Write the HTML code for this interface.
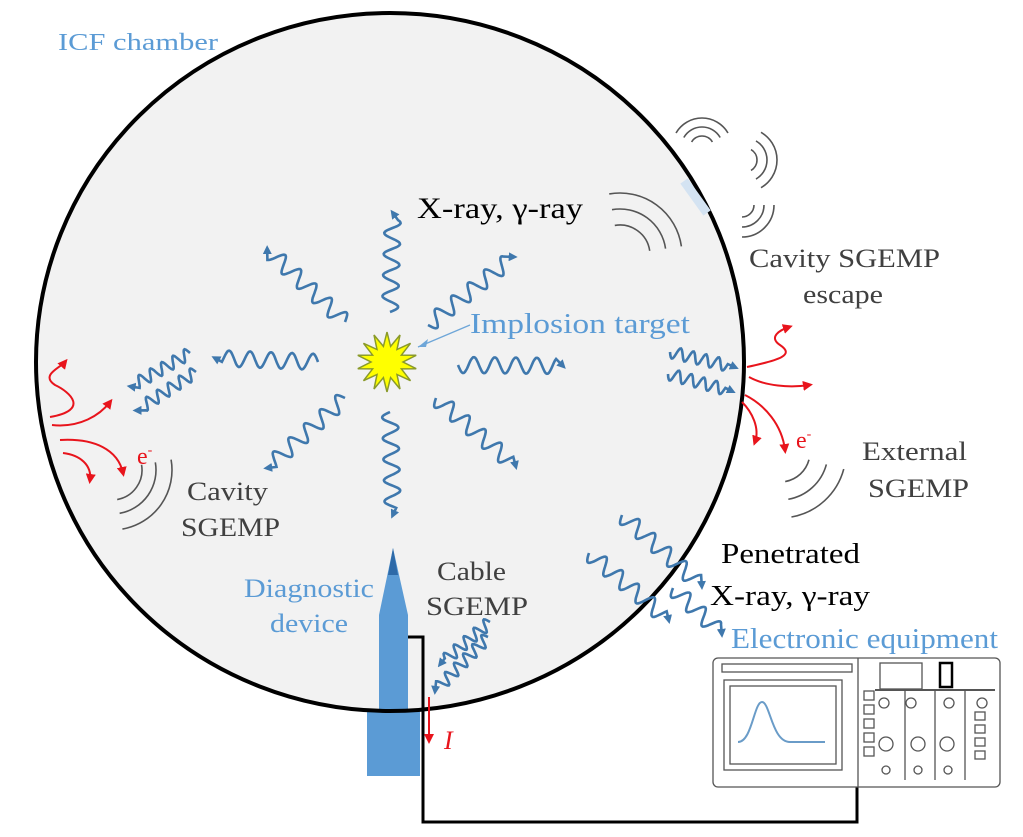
<!DOCTYPE html>
<html><head><meta charset="utf-8"><style>
html,body{margin:0;padding:0;background:#fff;}
svg{display:block;}
</style></head><body>
<svg id="s" width="1023" height="837" viewBox="0 0 1023 837" xmlns="http://www.w3.org/2000/svg" font-family="'Liberation Serif', 'Times New Roman', serif">
<defs>
<marker id="bh" markerWidth="9" markerHeight="9" refX="5" refY="4.5" orient="auto" markerUnits="userSpaceOnUse"><path d="M0,0 L9,4.5 L0,9 z" fill="#3f78ad"/></marker>
<marker id="rh" markerWidth="10" markerHeight="10" refX="6" refY="5" orient="auto" markerUnits="userSpaceOnUse"><path d="M0,0 L10,5 L0,10 z" fill="#e8141c"/></marker>
</defs>
<ellipse cx="390" cy="362" rx="354" ry="349" fill="#f2f2f2"/>
<path d="M393,548 L408,615 L408,710 L420,710 L420,776 L367,776 L367,710 L379,710 L379,615 Z" fill="#5b9bd5"/>
<path d="M393,548 L398,575 L388,575 Z" fill="#2e6aa8"/>
<ellipse cx="390" cy="362" rx="354" ry="349" fill="none" stroke="#000" stroke-width="4"/>
<line x1="684" y1="181" x2="707" y2="213" stroke="#d4e3f2" stroke-width="9"/>
<polyline points="408,637 423,637 423,822 857,822 857,787" fill="none" stroke="#000" stroke-width="3"/>
<line x1="429" y1="697" x2="429" y2="740" stroke="#e8141c" stroke-width="2" marker-end="url(#rh)"/>
<text x="444" y="749" font-size="26" font-style="italic" fill="#e8141c" font-family="Liberation Serif, serif">I</text>
<polygon id="star" fill="#ffff00" stroke="#8a9a2a" stroke-width="1.5"/>
<g id="waves" fill="none" stroke="#3f78ad" stroke-width="2.6"></g>
<g fill="none" stroke="#e8141c" stroke-width="2">
<path d="M50,417 C90,410 70,392 55,385 C40,375 60,368 65,362" marker-end="url(#rh)"/>
<path d="M52,425 C80,428 100,415 110,402" marker-end="url(#rh)"/>
<path d="M60,440 C95,438 118,450 123,473" marker-end="url(#rh)"/>
<path d="M63,453 C80,455 92,465 90,480" marker-end="url(#rh)"/>
<path d="M747,367 C780,360 795,355 780,345 C768,337 780,330 789,327" marker-end="url(#rh)"/>
<path d="M749,377 C765,386 790,388 809,385" marker-end="url(#rh)"/>
<path d="M745,395 C765,405 782,425 785,450" marker-end="url(#rh)"/>
<path d="M742,402 C752,412 760,428 755,442" marker-end="url(#rh)"/>
</g>
<g fill="none" stroke="#555" stroke-width="1.6" id="arcs"></g>
<g stroke="#555" fill="none" stroke-width="1.3">
<rect x="713" y="658" width="287" height="129" rx="5" fill="#fff"/>
<line x1="858" y1="658" x2="858" y2="787"/>
<rect x="724" y="680" width="118" height="90" fill="#fff"/>
<rect x="730" y="686" width="106" height="78"/>
<rect x="722" y="664" width="130" height="8"/>
<path d="M738,742 C752,742 754,702 762,702 C770,702 772,742 790,742 L825,742" stroke="#6a9cc8" stroke-width="2"/>
<rect x="864" y="691" width="10" height="9"/><rect x="864" y="705" width="10" height="9"/><rect x="864" y="719" width="10" height="9"/><rect x="864" y="733" width="10" height="9"/><rect x="864" y="747" width="10" height="9"/>
<rect x="880" y="663" width="42" height="26"/><rect x="940" y="663" width="12" height="24" stroke="#000" stroke-width="2.5"/>
<line x1="875" y1="690" x2="995" y2="690" stroke-width="2"/>
<circle cx="884" cy="703" r="5"/><circle cx="911" cy="703" r="5"/><circle cx="949" cy="703" r="5"/><circle cx="982" cy="703" r="5"/>
<circle cx="886" cy="744" r="7"/><circle cx="918" cy="744" r="7"/><circle cx="947" cy="744" r="7"/>
<circle cx="886" cy="770" r="4"/><circle cx="918" cy="770" r="4"/><circle cx="948" cy="770" r="4"/>
<line x1="905" y1="690" x2="905" y2="780"/><line x1="935" y1="690" x2="935" y2="780"/><line x1="965" y1="690" x2="965" y2="780"/>
<rect x="975" y="712" width="10" height="8"/><rect x="975" y="725" width="10" height="8"/><rect x="975" y="738" width="10" height="8"/><rect x="975" y="751" width="10" height="8"/>
</g>
<g font-family="Liberation Serif, serif">
<text x="58" y="50" font-size="24" fill="#5b9bd5" textLength="160" lengthAdjust="spacingAndGlyphs">ICF chamber</text>
<text x="417" y="218" font-size="30" fill="#000" textLength="166" lengthAdjust="spacingAndGlyphs">X-ray, γ-ray</text>
<text x="470" y="333" font-size="28" fill="#5b9bd5" textLength="220" lengthAdjust="spacingAndGlyphs">Implosion target</text>
<text x="749" y="267" font-size="26" fill="#404040" textLength="191" lengthAdjust="spacingAndGlyphs">Cavity SGEMP</text>
<text x="803" y="303" font-size="26" fill="#404040" textLength="80" lengthAdjust="spacingAndGlyphs">escape</text>
<text x="862" y="460" font-size="26" fill="#404040" textLength="105" lengthAdjust="spacingAndGlyphs">External</text>
<text x="868" y="497" font-size="26" fill="#404040" textLength="101" lengthAdjust="spacingAndGlyphs">SGEMP</text>
<text x="187" y="500" font-size="26" fill="#404040" textLength="81" lengthAdjust="spacingAndGlyphs">Cavity</text>
<text x="181" y="536" font-size="26" fill="#404040" textLength="99" lengthAdjust="spacingAndGlyphs">SGEMP</text>
<text x="244" y="597" font-size="26" fill="#5b9bd5" textLength="130" lengthAdjust="spacingAndGlyphs">Diagnostic</text>
<text x="270" y="632" font-size="26" fill="#5b9bd5" textLength="78" lengthAdjust="spacingAndGlyphs">device</text>
<text x="437" y="580" font-size="26" fill="#404040" textLength="69" lengthAdjust="spacingAndGlyphs">Cable</text>
<text x="426" y="615" font-size="26" fill="#404040" textLength="102" lengthAdjust="spacingAndGlyphs">SGEMP</text>
<text x="721" y="563" font-size="29" fill="#000" textLength="139" lengthAdjust="spacingAndGlyphs">Penetrated</text>
<text x="710" y="605" font-size="29" fill="#000" textLength="160" lengthAdjust="spacingAndGlyphs">X-ray, γ-ray</text>
<text x="731" y="648" font-size="28" fill="#5b9bd5" textLength="267" lengthAdjust="spacingAndGlyphs">Electronic equipment</text>
<text x="137" y="464" font-size="24" fill="#e8141c">e<tspan font-size="14" dy="-10">-</tspan></text>
<text x="796" y="448" font-size="24" fill="#e8141c">e<tspan font-size="14" dy="-10">-</tspan></text>
</g>
<line x1="470" y1="325" x2="418" y2="347" stroke="#6ea6d8" stroke-width="1.3"/>
<path d="M418,347 L428,339 L426,347 Z" fill="#6ea6d8"/>
</svg>
<script>
var NS="http://www.w3.org/2000/svg";
var pts=[],cx=387,cy=362;
for(var i=0;i<28;i++){var a=i*Math.PI/14-Math.PI/2;var r=(i%2==0)?30:16;pts.push((cx+r*Math.cos(a)).toFixed(1)+","+(cy+r*Math.sin(a)).toFixed(1));}
document.getElementById("star").setAttribute("points",pts.join(" "));
function wave(x1,y1,x2,y2,amp,wl){
 var dx=x2-x1,dy=y2-y1,L=Math.sqrt(dx*dx+dy*dy),ux=dx/L,uy=dy/L,nx=-uy,ny=ux;
 var d="",n=Math.floor(L-10);
 for(var t=0;t<=n;t+=1){var s=Math.sin(t/wl*2*Math.PI)*amp;var px=x1+ux*t+nx*s,py=y1+uy*t+ny*s;d+=(t?"L":"M")+px.toFixed(1)+","+py.toFixed(1);}
 d+="L"+(x1+ux*(L-3)).toFixed(1)+","+(y1+uy*(L-3)).toFixed(1);
 var p=document.createElementNS(NS,"path");p.setAttribute("d",d);p.setAttribute("marker-end","url(#bh)");
 document.getElementById("waves").appendChild(p);
}
var W=[[390,312,393,210],[345,322,265,247],[428,325,516,255],[318,362,212,358],[458,365,566,366],
[345,398,265,470],[390,412,393,518],[436,398,518,468],
[190,353,128,388],[196,372,134,412],[670,352,738,368],[668,374,735,392],
[490,622,438,666],[488,637,433,693],[622,515,704,588],[589,553,671,622],[673,588,724,636]];
W.forEach(function(w,i){var big=i<8||i>=14;wave(w[0],w[1],w[2],w[3],big?8:6,big?21:13);});
function arc(cx,cy,r,a1,a2){a1*=Math.PI/180;a2*=Math.PI/180;
 var p=document.createElementNS(NS,"path");
 p.setAttribute("d","M"+(cx+r*Math.cos(a1))+","+(cy+r*Math.sin(a1))+" A"+r+","+r+" 0 0 1 "+(cx+r*Math.cos(a2))+","+(cy+r*Math.sin(a2)));
 document.getElementById("arcs").appendChild(p);}
[22,36,52].forEach(function(r){arc(112,470,r+8,-10,80);});
[30,46,62].forEach(function(r){arc(620,255,r,-100,-8);});
[12,21,30].forEach(function(r){arc(702,148,r,-150,-30);});
[12,22,32].forEach(function(r){arc(745,160,r,-60,60);});
[12,22,32].forEach(function(r){arc(742,205,r,0,90);});
[30,48,66].forEach(function(r){arc(780,452,r,15,80);});
</script>
</body></html>
